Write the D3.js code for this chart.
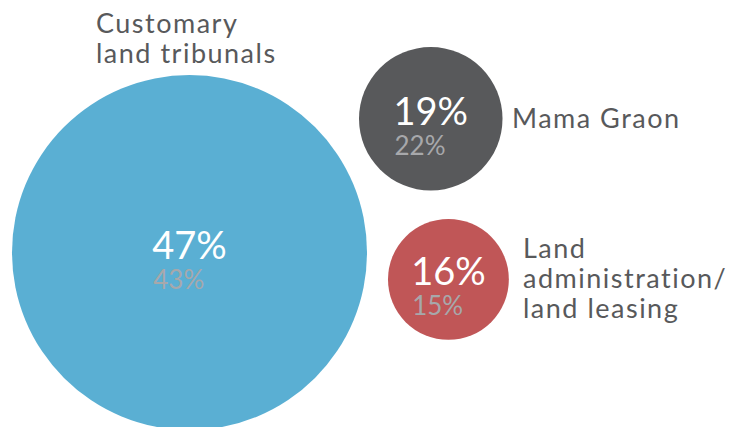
<!DOCTYPE html>
<html>
<head>
<meta charset="utf-8">
<script src="https://cdn.jsdelivr.net/npm/d3@7"></script>
<style>
  body { margin: 0; background: #fff; }
  text { font-family: Lato, "Open Sans", sans-serif; }
</style>
</head>
<body>
<div id="chart"></div>
<script>
// data
var categories = ["Customary land tribunals", "Mama Graon", "Land administration/ land leasing"];
var values = [47, 19, 16];
var previous = [43, 22, 15];
var labelLines = [["Customary", "land tribunals"], ["Mama Graon"], ["Land", "administration/", "land leasing"]];
var colors = ["#5aafd3", "#58595b", "#c05657"];

var width = 739,
    height = 427;

var svg = d3.select("#chart").append("svg")
    .attr("width", width)
    .attr("height", height);

// radius is linear in the share
var r = d3.scaleLinear()
    .domain([0, d3.max(values)])
    .range([0, 177.5]);

// layout: where each bubble sits and where its label goes
var anchors = [
  {cx: 12 + r(values[0]), cy: 75 + r(values[0]), lx: 96, ly: 33},
  {cx: 359 + r(values[1]), cy: 47 + r(values[1]), lx: 512, ly: 128},
  {cx: 388 + r(values[2]), cy: 219 + r(values[2]), lx: 523, ly: 258}
];

var items = categories.map(function(c, i) {
  return {name: c, value: values[i], prev: previous[i], lines: labelLines[i], color: colors[i], pos: anchors[i]};
});

var g = svg.selectAll(".bubble")
    .data(items)
    .enter().append("g")
    .attr("class", "bubble");

g.append("circle")
    .attr("cx", function(d) { return d.pos.cx; })
    .attr("cy", function(d) { return d.pos.cy; })
    .attr("r", function(d) { return r(d.value); })
    .attr("fill", function(d) { return d.color; });

// big value, centred on the bubble
var big = g.append("text")
    .attr("x", function(d) { return d.pos.cx; })
    .attr("y", function(d) { return d.pos.cy + 6; })
    .attr("text-anchor", "middle")
    .attr("fill", "#fff")
    .style("font-size", "38px")
    .text(function(d) { return d.value + "%"; });

// small value, left aligned under the big one
g.append("text")
    .attr("x", function(d, i) {
      var w = big.nodes()[i].getComputedTextLength();
      return d.pos.cx - w / 2 + 1;
    })
    .attr("y", function(d) { return d.pos.cy + 36; })
    .attr("fill", "#a7a8ab")
    .style("font-size", "26px")
    .text(function(d) { return d.prev + "%"; });

// category labels
var lab = g.append("text")
    .attr("fill", "#58595b")
    .style("font-size", "27px")
    .style("letter-spacing", "1.5px");

lab.selectAll("tspan")
    .data(function(d) { return d.lines.map(function(l) { return {t: l, x: d.pos.lx, y: d.pos.ly}; }); })
    .enter().append("tspan")
    .attr("x", function(d) { return d.x; })
    .attr("y", function(d, i) { return d.y + i * 30; })
    .text(function(d) { return d.t; });
</script>
</body>
</html>
